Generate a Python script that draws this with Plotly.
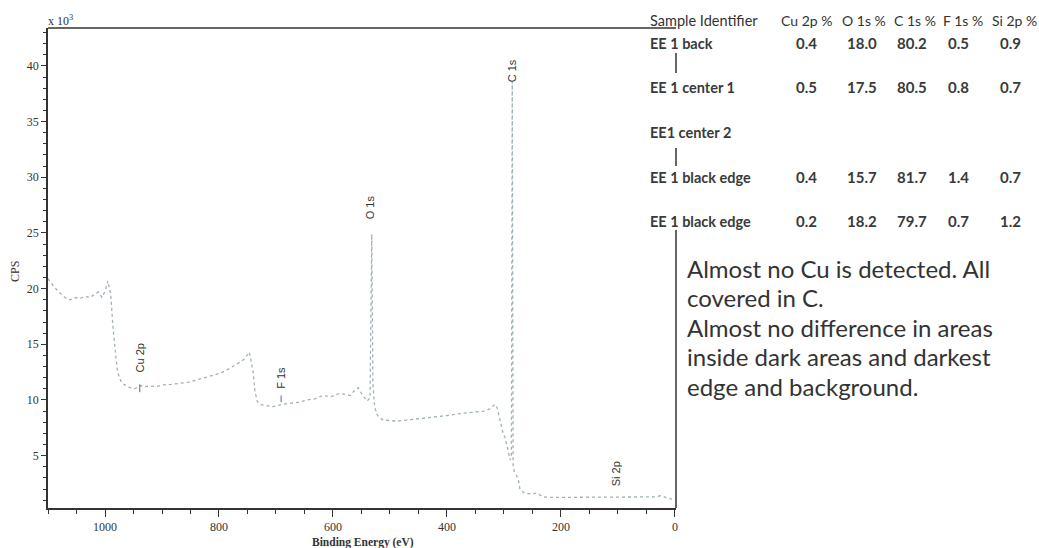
import plotly.graph_objects as go

# ---------------- data ----------------
binding_energy = [1100, 1090, 1079, 1070, 1061, 1052, 1044, 1035, 1026, 1018, 1012, 1005, 999, 995,
                  990, 986, 982, 979, 975, 970, 963, 956, 948, 939, 930, 921, 910, 898, 884, 868,
                  853, 839, 825, 811, 798, 786, 775, 763, 755, 747, 744, 740, 737, 733, 728, 717,
                  705, 690, 675, 660, 646, 632, 618, 603, 588, 579, 570, 563, 556, 548, 540, 535,
                  532, 530, 527, 523, 518, 512, 500, 488, 470, 453, 435, 418, 400, 382, 365, 347,
                  335, 325, 316, 312, 309, 305, 302, 298, 295, 291, 289, 287, 285.5, 284, 282, 278,
                  275, 272, 266, 260, 250, 242, 237, 232, 220, 207, 193, 179, 164, 149, 134, 119,
                  105, 91, 76, 61, 45, 33, 26, 18, 12, 5]
cps_k = [20.9, 20.2, 19.6, 19.2, 19.0, 19.2, 19.1, 19.3, 19.2, 19.5, 19.7, 19.2, 19.9, 20.7,
         19.5, 16.5, 14.0, 12.9, 12.0, 11.5, 11.3, 11.1, 11.0, 11.3, 11.2, 11.25, 11.2, 11.35, 11.4, 11.5,
         11.6, 11.8, 12.0, 12.2, 12.4, 12.7, 13.0, 13.4, 13.7, 14.3, 13.6, 12.5, 10.8, 9.9, 9.6, 9.5,
         9.4, 9.6, 9.7, 9.8, 10.0, 10.1, 10.4, 10.3, 10.6, 10.5, 10.4, 10.8, 11.1, 10.4, 9.9, 10.2,
         24.9, 11.5, 9.4, 8.7, 8.4, 8.2, 8.15, 8.1, 8.2, 8.3, 8.35, 8.5, 8.6, 8.75, 8.85, 8.9,
         9.0, 9.2, 9.6, 9.3, 8.7, 7.8, 7.1, 6.6, 6.0, 5.2, 4.6, 5.0, 38.6, 4.2, 3.6, 3.2,
         2.9, 2.0, 1.7, 1.6, 1.55, 1.65, 1.45, 1.3, 1.25, 1.25, 1.3, 1.25, 1.3, 1.25, 1.3, 1.25,
         1.3, 1.3, 1.25, 1.25, 1.3, 1.3, 1.4, 1.3, 1.15, 1.1]

peak_labels = ["Cu 2p", "F 1s", "O 1s", "C 1s", "Si 2p"]
peak_label_be = [939, 691, 535, 286, 102]
peak_label_cps = [13.8, 12.0, 27.3, 39.6, 3.4]

x_tick_vals = [1000, 800, 600, 400, 200, 0]
x_tick_text = ["1000", "800", "600", "400", "200", "0"]
y_tick_vals = [5, 10, 15, 20, 25, 30, 35, 40]

table_header = ["Sample Identifier", "Cu 2p %", "O 1s %", "C 1s %", "F 1s %", "Si 2p %"]
sample_ids = ["EE 1 back", "EE 1 center 1", "EE1 center 2", "EE 1 black edge", "EE 1 black edge"]
cu2p = [0.4, 0.5, None, 0.4, 0.2]
o1s = [18.0, 17.5, None, 15.7, 18.2]
c1s = [80.2, 80.5, None, 81.7, 79.7]
f1s = [0.5, 0.8, None, 1.4, 0.7]
si2p = [0.9, 0.7, None, 0.7, 1.2]

comment_lines = ["Almost no Cu is detected. All", "covered in C.",
                 "Almost no difference in areas", "inside dark areas and darkest",
                 "edge and background."]

# ---------------- layout helpers (pixel -> paper) ----------------
L, R, T, B = 48, 676, 28, 508
W, H = 1039, 548


def PX(px):
    return (px - L) / (R - L)


def PY(py):
    return (B - py) / (B - T)


fig = go.Figure()
fig.add_trace(go.Scatter(x=binding_energy, y=cps_k, mode="lines",
                         line=dict(color="#9fb1b6", width=1.3, dash="dot"),
                         hoverinfo="skip", showlegend=False))

serif = "Liberation Serif"
sans = "Lato"
axis_col = "#333333"

fig.update_layout(
    width=W, height=H,
    margin=dict(l=L, r=W - R, t=T, b=H - B),
    paper_bgcolor="white", plot_bgcolor="white",
    showlegend=False,
    xaxis=dict(range=[1100, -1.8], tickvals=x_tick_vals, ticktext=x_tick_text,
               showgrid=False, zeroline=False, showline=True, linecolor=axis_col, linewidth=1.5,
               ticks="outside", ticklen=7, tickwidth=1.2, tickcolor=axis_col,
               minor=dict(dtick=50, ticks="outside", ticklen=4, tickcolor=axis_col, tickwidth=1),
               tickfont=dict(family=serif, size=12, color="#333")),
    yaxis=dict(range=[0.3, 43.4], tickvals=y_tick_vals,
               showgrid=False, zeroline=False, showline=True, linecolor=axis_col, linewidth=1.5,
               ticks="outside", ticklen=5, tickwidth=1.2, tickcolor=axis_col,
               minor=dict(dtick=1, ticks="outside", ticklen=3, tickcolor=axis_col, tickwidth=1),
               tickfont=dict(family=serif, size=12, color="#333")),
)

shapes = []
# top frame line
shapes.append(dict(type="line", xref="paper", yref="paper", x0=0, x1=1, y0=1, y1=1,
                   line=dict(color=axis_col, width=1.5)))
# right frame line (partially hidden by the pasted table)
for a, b in [(53, 73), (148, 166), (230, B)]:
    shapes.append(dict(type="line", xref="paper", yref="paper", x0=1, x1=1, y0=PY(b), y1=PY(a),
                       line=dict(color=axis_col, width=1.5)))
# small marker ticks below Cu 2p / F 1s labels
shapes.append(dict(type="line", xref="x", yref="y", x0=peak_label_be[0], x1=peak_label_be[0],
                   y0=10.7, y1=11.4, line=dict(color="#667", width=1)))
shapes.append(dict(type="line", xref="x", yref="y", x0=peak_label_be[1], x1=peak_label_be[1],
                   y0=9.8, y1=10.4, line=dict(color="#667", width=1)))
fig.update_layout(shapes=shapes)

ann = []
# peak labels
for lab, bx, by in zip(peak_labels, peak_label_be, peak_label_cps):
    ann.append(dict(x=bx, y=by, xref="x", yref="y", text=lab, textangle=-90, showarrow=False,
                    xanchor="center", yanchor="middle",
                    font=dict(family="Liberation Sans", size=11, color="#333")))
# axis titles
ann.append(dict(x=PX(46), y=PY(21), xref="paper", yref="paper", text="x 10<sup>3</sup>",
                xanchor="left", yanchor="middle", showarrow=False,
                font=dict(family=serif, size=12, color="#333")))
ann.append(dict(x=PX(15), y=PY(272), xref="paper", yref="paper", text="CPS", textangle=-90,
                xanchor="center", yanchor="middle",
                showarrow=False, font=dict(family=serif, size=12, color="#333")))
ann.append(dict(x=PX(363), y=PY(542), xref="paper", yref="paper", text="<b>Binding Energy (eV)</b>",
                xanchor="center", yanchor="middle",
                showarrow=False, font=dict(family=serif, size=11.5, color="#333")))

# table
head_x = [648, 807, 864, 915, 963, 1014]
col_x = [648, 807, 862, 912, 958, 1010]
ann.append(dict(x=PX(head_x[0]), y=PY(21), xref="paper", yref="paper", text=table_header[0],
                xanchor="left", yanchor="middle", showarrow=False,
                font=dict(family=sans, size=14.5, color="#333")))
for hx, h in zip(head_x[1:], table_header[1:]):
    ann.append(dict(x=PX(hx), y=PY(21), xref="paper", yref="paper", text=h,
                    xanchor="center", yanchor="middle",
                    showarrow=False, font=dict(family=sans, size=14, color="#333")))
row_y = [43, 87, 132, 177, 221]
for ry, sid, a1, a2, a3, a4, a5 in zip(row_y, sample_ids, cu2p, o1s, c1s, f1s, si2p):
    ann.append(dict(x=PX(col_x[0]), y=PY(ry), xref="paper", yref="paper", text="<b>%s</b>" % sid,
                    xanchor="left", yanchor="middle", showarrow=False,
                    font=dict(family=sans, size=14.5, color="#3a3a3a")))
    for cx, v in zip(col_x[1:], [a1, a2, a3, a4, a5]):
        if v is None:
            continue
        ann.append(dict(x=PX(cx), y=PY(ry), xref="paper", yref="paper", text="<b>%.1f</b>" % v,
                        xanchor="center", yanchor="middle",
                        showarrow=False, font=dict(family=sans, size=15, color="#3a3a3a")))

# commentary
for i, line in enumerate(comment_lines):
    ann.append(dict(x=PX(685), y=PY(268 + i * 29.5), xref="paper", yref="paper", text=line,
                    xanchor="left", yanchor="middle", showarrow=False,
                    font=dict(family=sans, size=24, color="#333")))

fig.update_layout(annotations=ann)
fig.write_html("out.html")
